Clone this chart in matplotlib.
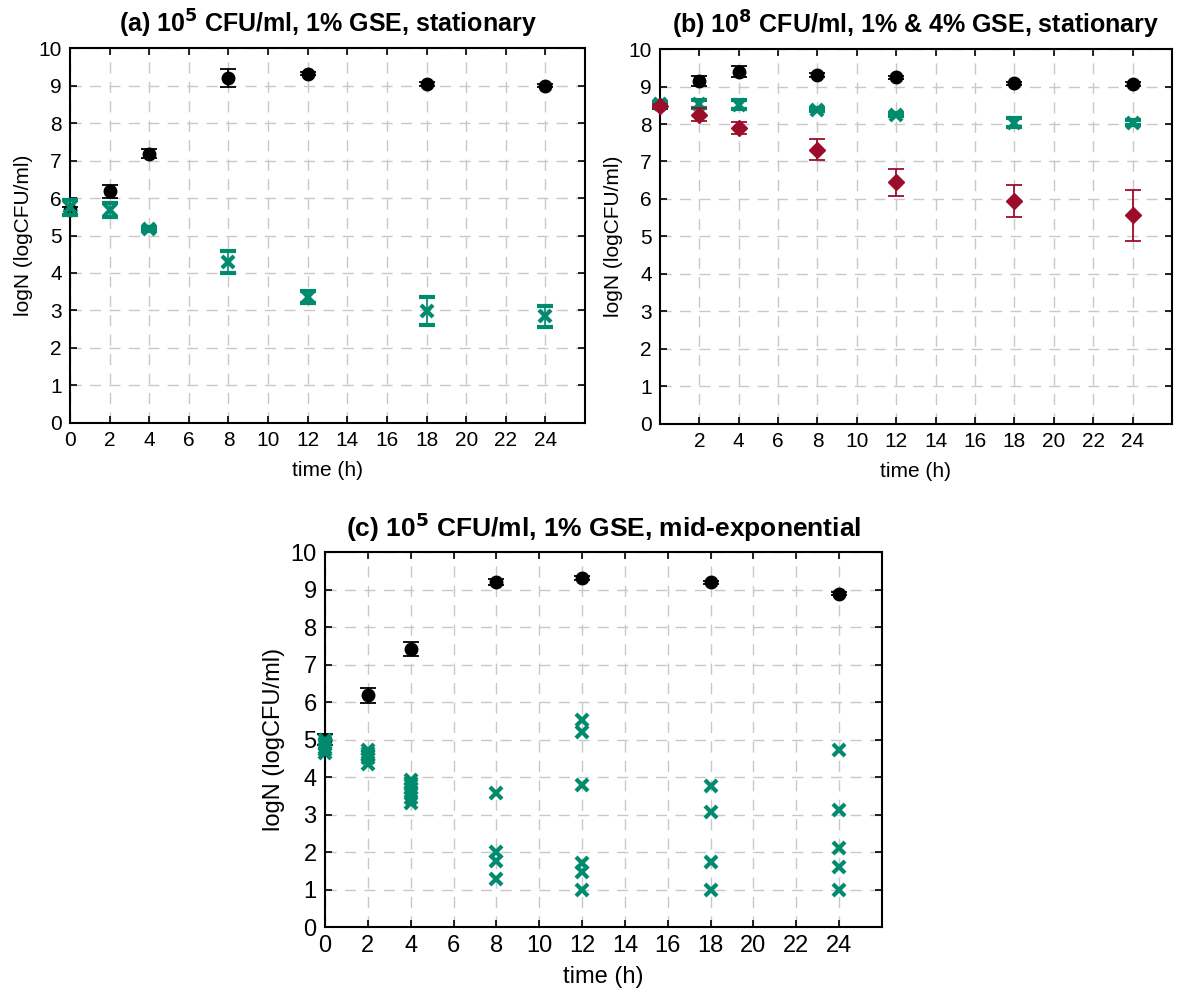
import matplotlib
matplotlib.use("Agg")
import matplotlib.pyplot as plt
import numpy as np

plt.rcParams['font.family'] = ['Liberation Sans', 'DejaVu Sans']

GREEN = '#008a6e'
RED = '#9c0d2c'

# Panel (a)
t_a = [0, 2, 4, 8, 12, 18, 24]
a_ctrl = [5.67, 6.18, 7.18, 9.20, 9.32, 9.04, 9.00]
a_ctrl_err = [0.10, 0.17, 0.12, 0.23, 0.05, 0.05, 0.05]
a_gse = [5.75, 5.69, 5.18, 4.29, 3.36, 2.98, 2.84]
a_gse_err = [0.20, 0.19, 0.05, 0.29, 0.16, 0.38, 0.28]

# Panel (b)
t_b = [0, 2, 4, 8, 12, 18, 24]
b_ctrl = [8.50, 9.15, 9.40, 9.31, 9.25, 9.09, 9.07]
b_ctrl_err = [0.10, 0.14, 0.15, 0.05, 0.04, 0.04, 0.05]
b_gse1 = [8.53, 8.54, 8.51, 8.38, 8.25, 8.04, 8.04]
b_gse1_err = [0.05, 0.10, 0.12, 0.04, 0.04, 0.12, 0.06]
b_gse4 = [8.48, 8.25, 7.89, 7.31, 6.44, 5.95, 5.56]
b_gse4_err = [0.05, 0.18, 0.16, 0.28, 0.36, 0.43, 0.67]

# Panel (c)
t_c = [0, 2, 4, 8, 12, 18, 24]
c_ctrl = [5.00, 6.18, 7.41, 9.20, 9.30, 9.19, 8.89]
c_ctrl_err = [0.15, 0.20, 0.19, 0.07, 0.05, 0.03, 0.04]
c_rep_t = [0, 0, 0, 0, 0, 0,
           2, 2, 2, 2, 2, 2,
           4, 4, 4, 4, 4, 4, 4,
           8, 8, 8, 8,
           12, 12, 12, 12, 12, 12,
           18, 18, 18, 18,
           24, 24, 24, 24, 24]
c_rep_v = [4.65, 4.72, 4.78, 4.85, 4.92, 5.00,
           4.35, 4.50, 4.55, 4.60, 4.65, 4.72,
           3.30, 3.45, 3.60, 3.70, 3.78, 3.85, 3.92,
           3.57, 2.00, 1.75, 1.28,
           5.53, 5.20, 3.80, 1.70, 1.47, 1.00,
           3.77, 3.06, 1.73, 1.00,
           4.73, 3.11, 2.11, 1.60, 1.00]

titles = [r'(a) 10$^{\mathbf{5}}$ CFU/ml, 1% GSE, stationary',
          r'(b) 10$^{\mathbf{8}}$ CFU/ml, 1% & 4% GSE, stationary',
          r'(c) 10$^{\mathbf{5}}$ CFU/ml, 1% GSE, mid-exponential']
xticks_a = [0, 2, 4, 6, 8, 10, 12, 14, 16, 18, 20, 22, 24]
xticks_b = [2, 4, 6, 8, 10, 12, 14, 16, 18, 20, 22, 24]
yticks = [0, 1, 2, 3, 4, 5, 6, 7, 8, 9, 10]

fig = plt.figure(figsize=(11.84, 9.92), dpi=100)
axa = fig.add_axes([0.0591, 0.5736, 0.435, 0.378])
axb = fig.add_axes([0.5574, 0.5726, 0.4324, 0.378])
axc = fig.add_axes([0.2745, 0.0655, 0.4704, 0.378])


def style(ax, title, xt, fs, tfs, xlpad):
    ax.set_xlim(0, 26)
    ax.set_ylim(0, 10)
    ax.set_xticks(xt)
    ax.set_yticks(yticks)
    ax.grid(True, color='#c8c8c8', linestyle=(0, (8, 6)), linewidth=1.0)
    ax.set_axisbelow(True)
    ax.tick_params(direction='in', top=True, right=True, length=5, width=1.2,
                   labelsize=fs, pad=6)
    for s in ax.spines.values():
        s.set_linewidth(1.5)
    ax.set_xlabel('time (h)', fontsize=fs, labelpad=xlpad)
    ax.set_ylabel('logN (logCFU/ml)', fontsize=fs)
    ax.set_title(title, fontsize=tfs, fontweight='bold', pad=11)


def ctrl(ax, t, v, e):
    ax.errorbar(t, v, yerr=e, fmt='o', color='black', ms=9, capsize=6,
                elinewidth=1.3, capthick=1.3, clip_on=False, zorder=3)


def gse(ax, t, v, e):
    ax.errorbar(t, v, yerr=e, fmt='x', color=GREEN, ms=8, mew=3, capsize=6,
                elinewidth=1.2, capthick=1.2, clip_on=False, zorder=4)


# (a)
ctrl(axa, t_a, a_ctrl, a_ctrl_err)
gse(axa, t_a, a_gse, a_gse_err)
style(axa, titles[0], xticks_a, 15, 18, 8)

# (b)
ctrl(axb, t_b, b_ctrl, b_ctrl_err)
gse(axb, t_b, b_gse1, b_gse1_err)
axb.errorbar(t_b, b_gse4, yerr=b_gse4_err, fmt='D', color=RED, ms=8, capsize=6,
             elinewidth=1.3, capthick=1.3, clip_on=False, zorder=5)
style(axb, titles[1], xticks_b, 15, 18, 8)

# (c)
ctrl(axc, t_c, c_ctrl, c_ctrl_err)
axc.plot(c_rep_t, c_rep_v, 'x', color=GREEN, ms=9, mew=3, clip_on=False, zorder=4)
style(axc, titles[2], xticks_a, 17, 19, 6)

fig.savefig('out.png', dpi=100, facecolor='white')
